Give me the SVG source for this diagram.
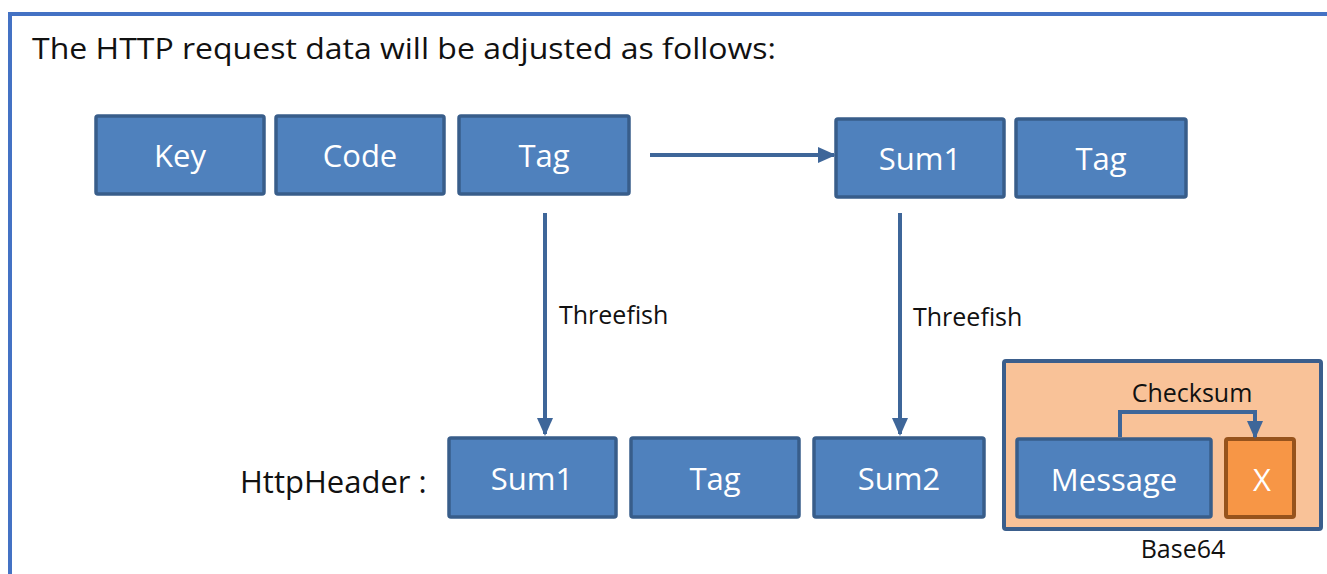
<svg xmlns="http://www.w3.org/2000/svg" width="1327" height="574" viewBox="0 0 1327 574">
<defs>
<marker id="ahl" markerWidth="18" markerHeight="18" refX="16" refY="9" orient="auto" markerUnits="userSpaceOnUse" viewBox="0 0 18 18">
<path d="M0,1 L18,9 L0,17 z" fill="#3E6699"/>
</marker>
</defs>
<style>
.box{fill:#4F81BD;stroke:#385D8A;stroke-width:3.5}
.lbl{font-family:"Open Sans","DejaVu Sans",sans-serif;font-size:31px;fill:#FFFFFF;text-anchor:middle}
.txt{font-family:"Open Sans","DejaVu Sans",sans-serif;fill:#111111}
.conn{stroke:#3E6699;stroke-width:4;fill:none}
</style>
<rect x="0" y="0" width="1327" height="574" fill="#FFFFFF"/>
<path d="M10,600 L10,14 L1340,14" fill="none" stroke="#4472C4" stroke-width="4"/>
<text class="txt" x="32" y="59" font-size="30" textLength="744" lengthAdjust="spacingAndGlyphs">The HTTP request data will be adjusted as follows:</text>

<g id="key"><rect class="box" x="96" y="116" width="168" height="78" rx="2"/><text class="lbl" x="180" y="167">Key</text></g>
<g id="code"><rect class="box" x="276" y="116" width="168" height="78" rx="2"/><text class="lbl" x="360" y="167">Code</text></g>
<g id="tag1"><rect class="box" x="459" y="116" width="170" height="78" rx="2"/><text class="lbl" x="544" y="167">Tag</text></g>
<g id="sum1top"><rect class="box" x="836" y="119" width="168" height="78" rx="2"/><text class="lbl" x="920" y="170">Sum1</text></g>
<g id="tag2"><rect class="box" x="1016" y="119" width="170" height="78" rx="2"/><text class="lbl" x="1101" y="170">Tag</text></g>

<g id="httpheader"><text class="txt" x="240" y="493" font-size="31">HttpHeader :</text></g>
<g id="sum1bot"><rect class="box" x="449" y="438" width="167" height="79" rx="2"/><text class="lbl" x="532" y="490">Sum1</text></g>
<g id="tag3"><rect class="box" x="631" y="438" width="168" height="79" rx="2"/><text class="lbl" x="715" y="490">Tag</text></g>
<g id="sum2"><rect class="box" x="814" y="438" width="170" height="79" rx="2"/><text class="lbl" x="899" y="490">Sum2</text></g>

<g id="base64">
<rect x="1004" y="361" width="317" height="168" rx="2" fill="#F9C298" stroke="#3B5E8C" stroke-width="4"/>
<text class="txt" x="1183" y="558" font-size="25" text-anchor="middle">Base64</text>
</g>
<g id="message"><rect class="box" x="1017" y="439" width="194" height="78" rx="2"/><text class="lbl" x="1114" y="491">Message</text></g>
<g id="x"><rect x="1226" y="439" width="68" height="78" rx="2" fill="#F79646" stroke="#97531C" stroke-width="4"/><text class="lbl" x="1262" y="491">X</text></g>

<g id="connectors">
<line class="conn" x1="650" y1="155" x2="834" y2="155" marker-end="url(#ahl)"/>
<line class="conn" x1="545" y1="213" x2="545" y2="434" marker-end="url(#ahl)"/>
<line class="conn" x1="900" y1="213" x2="900" y2="434" marker-end="url(#ahl)"/>
<path class="conn" d="M1120,437 L1120,412 L1255,412 L1255,437" stroke-width="3.5" marker-end="url(#ahl)"/>
<text class="txt" x="559" y="324" font-size="25">Threefish</text>
<text class="txt" x="913" y="326" font-size="25">Threefish</text>
<text class="txt" x="1192" y="402" font-size="25" text-anchor="middle">Checksum</text>
</g>
</svg>
